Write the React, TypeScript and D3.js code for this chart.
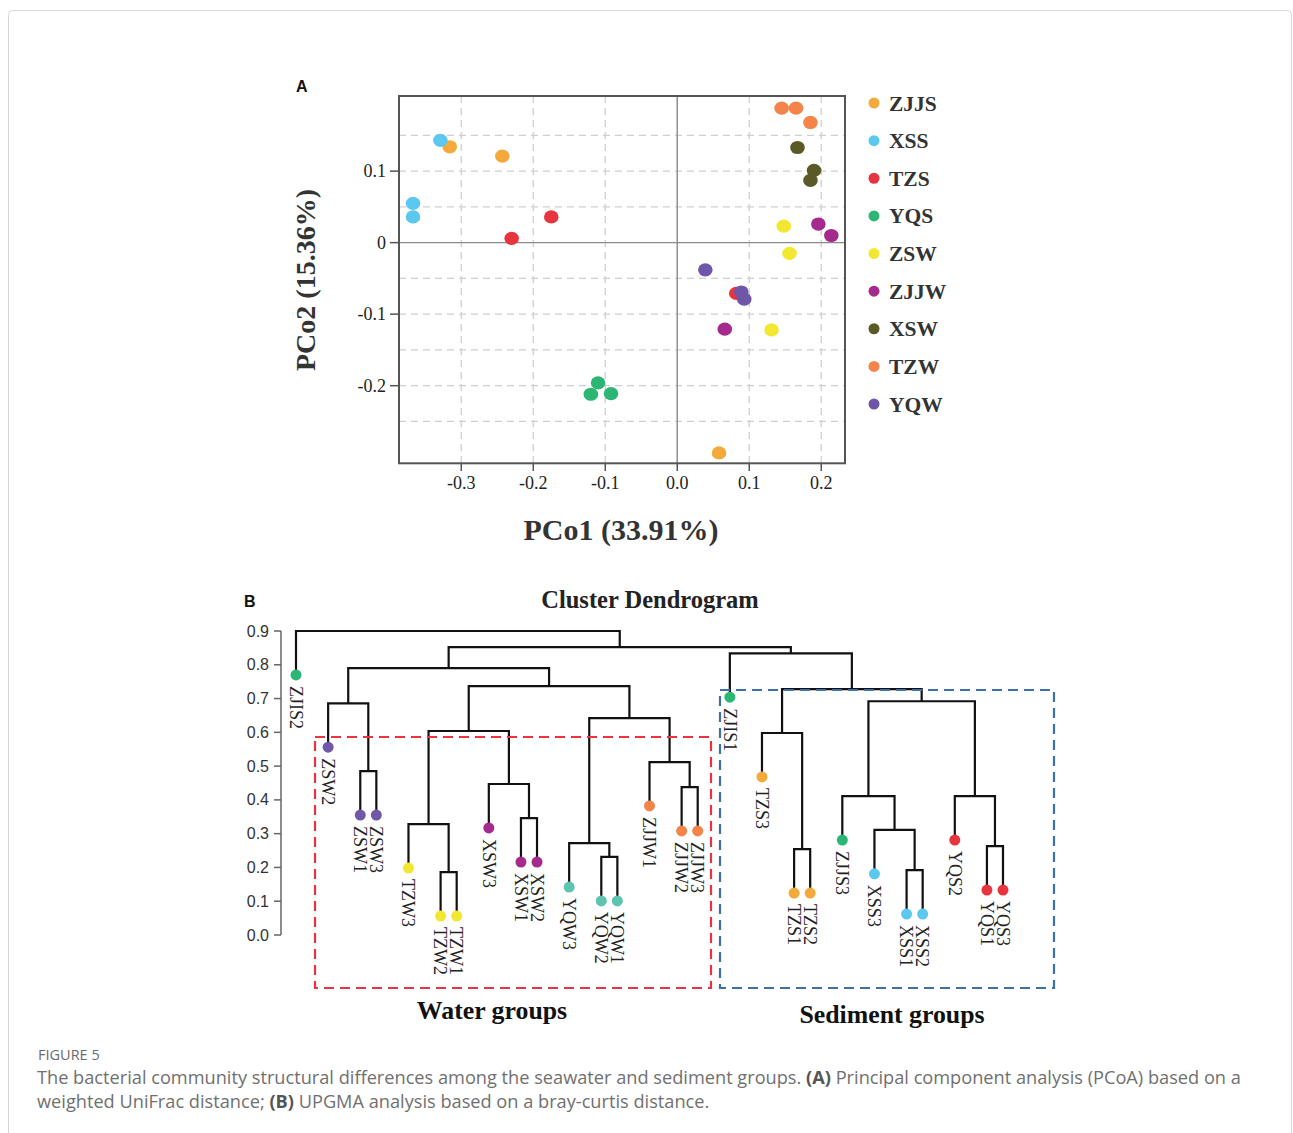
import React from "react";
import * as d3 from "d3";

const W = 1293;
const H = 1133;
const SERIF = "'Liberation Serif', 'Times New Roman', serif";
const SANS = "'Liberation Sans', Arial, sans-serif";

// ---- panel A: PCoA ----
const groupNames = ["ZJJS", "XSS", "TZS", "YQS", "ZSW", "ZJJW", "XSW", "TZW", "YQW"];
const groupColors = ["#F4AA3B", "#5CC8EF", "#E8343E", "#2BB673", "#F2E832", "#A62A8E", "#5A5A28", "#F5844A", "#6E56A8"];

const pcoGroup = [
  "ZJJS", "ZJJS", "ZJJS", "XSS", "XSS", "XSS", "TZS", "TZS", "TZS",
  "YQS", "YQS", "YQS", "ZSW", "ZSW", "ZSW", "ZJJW", "ZJJW", "ZJJW",
  "XSW", "XSW", "XSW", "TZW", "TZW", "TZW", "YQW", "YQW", "YQW",
];
const pco1 = [
  -0.316, -0.243, 0.058, -0.329, -0.367, -0.367, -0.23, -0.175, 0.082,
  -0.11, -0.12, -0.092, 0.148, 0.156, 0.131, 0.196, 0.214, 0.066,
  0.167, 0.19, 0.185, 0.145, 0.165, 0.185, 0.039, 0.089, 0.093,
];
const pco2 = [
  0.134, 0.121, -0.294, 0.143, 0.055, 0.036, 0.006, 0.036, -0.071,
  -0.196, -0.212, -0.211, 0.023, -0.015, -0.122, 0.026, 0.01, -0.121,
  0.133, 0.101, 0.087, 0.188, 0.188, 0.168, -0.038, -0.069, -0.079,
];
const xTicks = [-0.3, -0.2, -0.1, 0, 0.1, 0.2];
const xTickLabels = ["-0.3", "-0.2", "-0.1", "0.0", "0.1", "0.2"];
const yTicks = [-0.2, -0.1, 0, 0.1];
const yTickLabels = ["-0.2", "-0.1", "0", "0.1"];
const yGrid = [-0.25, -0.2, -0.15, -0.1, -0.05, 0.05, 0.1, 0.15];

// ---- panel B: UPGMA dendrogram ----
const leafNames = [
  "ZJIS2", "ZSW2", "ZSW1", "ZSW3", "TZW3", "TZW2", "TZW1", "XSW3", "XSW1", "XSW2",
  "YQW3", "YQW2", "YQW1", "ZJJW1", "ZJJW2", "ZJJW3", "ZJIS1", "TZS3", "TZS1", "TZS2",
  "ZJJS3", "XSS3", "XSS1", "XSS2", "YQS2", "YQS1", "YQS3",
];
const leafGroups = [
  "ZJJS", "ZSW", "ZSW", "ZSW", "TZW", "TZW", "TZW", "XSW", "XSW", "XSW",
  "YQW", "YQW", "YQW", "ZJJW", "ZJJW", "ZJJW", "ZJJS", "TZS", "TZS", "TZS",
  "ZJJS", "XSS", "XSS", "XSS", "YQS", "YQS", "YQS",
];
const dendroColors: Record<string, string> = {
  ZJJS: "#2BB673", ZSW: "#7058A8", TZW: "#F2E832", XSW: "#A62A8E", YQW: "#5CC4B0",
  ZJJW: "#F5844A", TZS: "#F4AA3B", XSS: "#5CC8EF", YQS: "#E8343E",
};
// hclust-style merges: negative = leaf (1-based), positive = earlier merge (1-based)
const merges: [number, number, number][] = [
  [-3, -4, 0.485], [-2, 1, 0.686], [-6, -7, 0.186], [-5, 3, 0.328],
  [-9, -10, 0.346], [-8, 5, 0.447], [4, 6, 0.604], [-12, -13, 0.231],
  [-11, 8, 0.272], [-15, -16, 0.438], [-14, 10, 0.512], [9, 11, 0.642],
  [7, 12, 0.737], [2, 13, 0.79], [-19, -20, 0.254], [-18, 15, 0.598],
  [-23, -24, 0.192], [-22, 17, 0.311], [-21, 18, 0.411], [-26, -27, 0.263],
  [-25, 20, 0.411], [19, 21, 0.692], [16, 22, 0.728], [-17, 23, 0.834],
  [14, 24, 0.852], [-1, 25, 0.9],
];
const dendroTicks = [0, 0.1, 0.2, 0.3, 0.4, 0.5, 0.6, 0.7, 0.8, 0.9];
const hang = 0.13;

export default function App() {
  // PCoA scales
  const px = d3.scaleLinear().domain([-0.3865, 0.233]).range([399, 845]);
  const py = d3.scaleLinear().domain([-0.3085, 0.205]).range([463.3, 96]);
  const color = d3.scaleOrdinal<string, string>().domain(groupNames).range(groupColors);
  const legendY = d3.scalePoint<string>().domain(groupNames).range([103, 404]);

  // dendrogram layout
  const directPair = new Set<number>();
  merges.forEach(([a, b]) => {
    if (a < 0 && b < 0) directPair.add(Math.max(-a, -b) - 1);
  });
  const slots: number[] = [];
  let s = 0;
  leafNames.forEach((_, i) => {
    if (i > 0) s += directPair.has(i) ? 1 : 2;
    slots.push(s);
  });
  const dx = d3.scaleLinear().domain([0, s]).range([296, 1003]);
  const dy = d3.scaleLinear().domain([0, 0.9]).range([935, 631]);

  const leafParentH: number[] = new Array(leafNames.length).fill(0);
  merges.forEach(([a, b, h]) => {
    if (a < 0) leafParentH[-a - 1] = h;
    if (b < 0) leafParentH[-b - 1] = h;
  });
  const mergeX: number[] = [];
  const refX = (r: number) => (r < 0 ? dx(slots[-r - 1]) : mergeX[r - 1]);
  const refTop = (r: number) =>
    r < 0 ? dy(leafParentH[-r - 1] - hang) : dy(merges[r - 1][2]);
  merges.forEach(([a, b]) => mergeX.push((refX(a) + refX(b)) / 2));

  const segs: string[] = merges.map(([a, b, h]) => {
    const y = dy(h);
    return `M${refX(a)},${refTop(a)}V${y}H${refX(b)}V${refTop(b)}`;
  });

  return (
    <svg width={W} height={H} style={{ position: "absolute", left: 0, top: 0, background: "#fff" }}>
      <rect x={8.5} y={10.5} width={1283} height={1150} rx={4} fill="none" stroke="#d8d8d8" />

      {/* ===== Panel A ===== */}
      <text x={296} y={92} fontFamily={SANS} fontWeight="bold" fontSize={16} fill="#111">A</text>
      <g>
        {xTicks.map((t) => (
          <line key={"gx" + t} x1={px(t)} x2={px(t)} y1={96} y2={463.3}
            stroke="#cfcfcf" strokeWidth={1.3} strokeDasharray={t === 0 ? undefined : "7,5"} />
        ))}
        {yGrid.map((t) => (
          <line key={"gy" + t} x1={399} x2={845} y1={py(t)} y2={py(t)}
            stroke="#cfcfcf" strokeWidth={1.3} strokeDasharray="7,5" />
        ))}
        <line x1={px(0)} x2={px(0)} y1={96} y2={463.3} stroke="#8a8a8a" strokeWidth={1.3} />
        <line x1={399} x2={845} y1={py(0)} y2={py(0)} stroke="#8a8a8a" strokeWidth={1.3} />
        <rect x={399} y={96} width={446} height={367.3} fill="none" stroke="#555" strokeWidth={2} />
        {xTicks.map((t, i) => (
          <g key={"xt" + t}>
            <line x1={px(t)} x2={px(t)} y1={463.3} y2={471} stroke="#555" strokeWidth={1.5} />
            <text x={px(t)} y={489} textAnchor="middle" fontFamily={SERIF} fontSize={18} fill="#222">
              {xTickLabels[i]}
            </text>
          </g>
        ))}
        {yTicks.map((t, i) => (
          <g key={"yt" + t}>
            <line x1={390} x2={399} y1={py(t)} y2={py(t)} stroke="#555" strokeWidth={1.5} />
            <text x={386} y={py(t)} dy="0.35em" textAnchor="end" fontFamily={SERIF} fontSize={18} fill="#222">
              {yTickLabels[i]}
            </text>
          </g>
        ))}
        {pco1.map((v, i) => (
          <ellipse key={"p" + i} cx={px(v)} cy={py(pco2[i])} rx={7.3} ry={6.6} fill={color(pcoGroup[i])} />
        ))}
        <text transform="translate(315,280) rotate(-90)" textAnchor="middle" fontFamily={SERIF}
          fontWeight="bold" fontSize={28} fill="#333">PCo2 (15.36%)</text>
        <text x={621} y={540} textAnchor="middle" fontFamily={SERIF} fontWeight="bold" fontSize={30} fill="#333">
          PCo1 (33.91%)
        </text>
        {groupNames.map((g) => (
          <g key={"lg" + g}>
            <circle cx={874} cy={legendY(g)} r={5.5} fill={color(g)} />
            <text x={889} y={legendY(g)} dy="0.35em" fontFamily={SERIF} fontWeight="bold" fontSize={21.5} fill="#333">
              {g}
            </text>
          </g>
        ))}
      </g>

      {/* ===== Panel B ===== */}
      <text x={244} y={607} fontFamily={SANS} fontWeight="bold" fontSize={16} fill="#111">B</text>
      <text x={650} y={608} textAnchor="middle" fontFamily={SERIF} fontWeight="bold" fontSize={24.5} fill="#222">
        Cluster Dendrogram
      </text>
      <g>
        <line x1={281} x2={281} y1={dy(0)} y2={dy(0.9)} stroke="#666" strokeWidth={1.5} />
        {dendroTicks.map((t) => (
          <g key={"dt" + t}>
            <line x1={274} x2={281} y1={dy(t)} y2={dy(t)} stroke="#666" strokeWidth={1.5} />
            <text x={269} y={dy(t)} dy="0.35em" textAnchor="end" fontFamily={SANS} fontSize={16} fill="#333">
              {t.toFixed(1)}
            </text>
          </g>
        ))}
        {segs.map((d, i) => (
          <path key={"s" + i} d={d} fill="none" stroke="#111" strokeWidth={2.2} />
        ))}
        {leafNames.map((n, i) => {
          const x = dx(slots[i]);
          const y = dy(leafParentH[i] - hang);
          return (
            <g key={"lf" + n}>
              <circle cx={x} cy={y} r={5.5} fill={dendroColors[leafGroups[i]]} />
              <text x={x} y={y + 11} dy="0.35em" transform={`rotate(90,${x},${y + 11})`}
                fontFamily={SERIF} fontSize={18} fill="#222">{n}</text>
            </g>
          );
        })}
        <rect x={315} y={737} width={396} height={251} fill="none" stroke="#E8343E" strokeWidth={2.2} strokeDasharray="10,6" />
        <rect x={720} y={690} width={334} height={298} fill="none" stroke="#3D70A3" strokeWidth={2.2} strokeDasharray="10,6" />
        <text x={492} y={1019} textAnchor="middle" fontFamily={SERIF} fontWeight="bold" fontSize={25.8} fill="#111">
          Water groups
        </text>
        <text x={892} y={1023} textAnchor="middle" fontFamily={SERIF} fontWeight="bold" fontSize={25.8} fill="#111">
          Sediment groups
        </text>
      </g>

      {/* ===== caption ===== */}
      <text x={38} y={1060} fontFamily="'Open Sans', sans-serif" fontSize={14.5} fill="#6b6b6b">FIGURE 5</text>
      <text x={37} y={1084} fontFamily="'Open Sans', sans-serif" fontSize={18.2} fill="#707070">
        The bacterial community structural differences among the seawater and sediment groups.{" "}
        <tspan fontWeight="bold" fill="#555">(A)</tspan> Principal component analysis (PCoA) based on a
      </text>
      <text x={37} y={1108} fontFamily="'Open Sans', sans-serif" fontSize={18.2} fill="#707070">
        weighted UniFrac distance; <tspan fontWeight="bold" fill="#555">(B)</tspan> UPGMA analysis based on a bray-curtis distance.
      </text>
    </svg>
  );
}
